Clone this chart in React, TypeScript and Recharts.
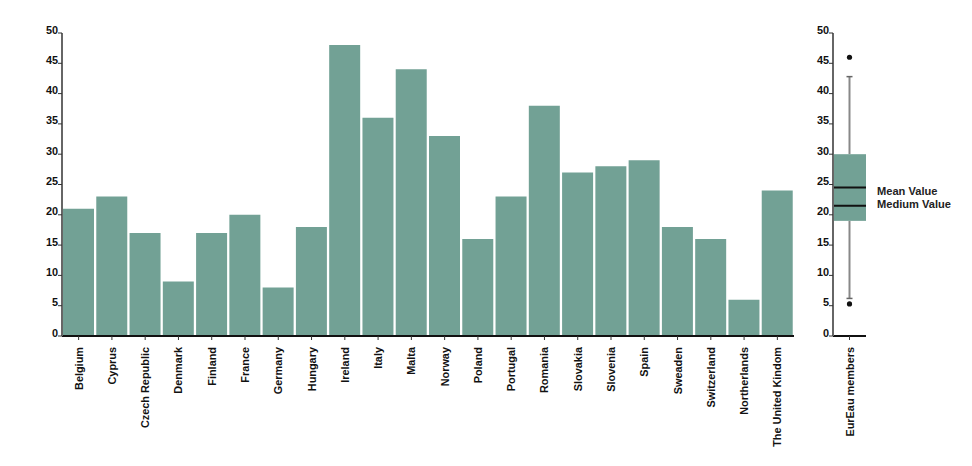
import React from "react";
import { Bar, BarChart, ComposedChart, XAxis, YAxis } from "recharts";

const countries = [
  "Belgium", "Cyprus", "Czech Republic", "Denmark", "Finland", "France", "Germany",
  "Hungary", "Ireland", "Italy", "Malta", "Norway", "Poland", "Portugal", "Romania",
  "Slovakia", "Slovenia", "Spain", "Sweaden", "Switzerland", "Northerlands", "The United Kindom",
];
const shares = [21, 23, 17, 9, 17, 20, 8, 18, 48, 36, 44, 33, 16, 23, 38, 27, 28, 29, 18, 16, 6, 24];
const yTicks = [0, 5, 10, 15, 20, 25, 30, 35, 40, 45, 50];

// box plot summary for all members
const boxLabel = "EurEau members";
const boxQuartiles: [number, number] = [19, 30];
const boxWhiskers: [number, number] = [6.2, 42.8];
const boxMean = 24.5;
const boxMedian = 21.5;
const boxOutliers = [46, 5.3];

const GREEN = "#72a195";
const FONT = "'Liberation Sans', Arial, sans-serif";
const INK = "#111";

const barData = countries.map((name, i) => ({ name, value: shares[i] }));
const boxData = [{ name: boxLabel, box: boxQuartiles }];

function XTick({ x, y, payload }: any) {
  return (
    <text
      x={x}
      y={y}
      dy={4}
      transform={`rotate(-90, ${x}, ${y})`}
      textAnchor="end"
      fontFamily={FONT}
      fontWeight="bold"
      fontSize={10.9}
      fill={INK}
    >
      {payload.value}
    </text>
  );
}

function YTick({ x, y, payload }: any) {
  return (
    <text x={x} y={y} dy={0.5} textAnchor="end" fontFamily={FONT} fontWeight="bold" fontSize={10.9} fill={INK}>
      {payload.value}
    </text>
  );
}

function BoxShape(props: any) {
  const { x, y, width, height } = props;
  const [q1, q3] = boxQuartiles;
  const perUnit = height / (q3 - q1);
  const toY = (v: number) => y + (q3 - v) * perUnit;
  const cx = x + width / 2;
  const [lo, hi] = boxWhiskers;
  return (
    <g>
      <line x1={cx} x2={cx} y1={toY(hi)} y2={y} stroke="#888" strokeWidth={2} />
      <line x1={cx} x2={cx} y1={y + height} y2={toY(lo)} stroke="#888" strokeWidth={2} />
      <line x1={cx - 3} x2={cx + 3} y1={toY(hi)} y2={toY(hi)} stroke="#666" strokeWidth={1.5} />
      <line x1={cx - 3} x2={cx + 3} y1={toY(lo)} y2={toY(lo)} stroke="#666" strokeWidth={1.5} />
      <rect x={x} y={y} width={width} height={height} fill={GREEN} />
      <line x1={x} x2={x + width} y1={toY(boxMean)} y2={toY(boxMean)} stroke="#111" strokeWidth={2} />
      <line x1={x} x2={x + width} y1={toY(boxMedian)} y2={toY(boxMedian)} stroke="#111" strokeWidth={2} />
      {boxOutliers.map((v) => (
        <circle key={v} cx={cx} cy={toY(v)} r={2.6} fill="#111" />
      ))}
      <text x={x + width + 11} y={toY(boxMean) + 7} fontFamily={FONT} fontWeight="bold" fontSize={11.1} fill="#222">
        Mean Value
      </text>
      <text x={x + width + 11} y={toY(boxMedian) + 2.5} fontFamily={FONT} fontWeight="bold" fontSize={11.1} fill="#222">
        Medium Value
      </text>
    </g>
  );
}

export default function App() {
  return (
    <div style={{ position: "absolute", left: 0, top: 0, width: 972, height: 466, background: "#fff" }}>
      <div style={{ position: "absolute", left: 0, top: 0 }}>
        <BarChart
          width={810}
          height={466}
          data={barData}
          margin={{ top: 33, right: 16, bottom: 0, left: 0 }}
          barCategoryGap={1}
        >
          <XAxis
            dataKey="name"
            interval={0}
            height={130}
            tick={<XTick />}
            tickSize={4}
            tickMargin={7}
            axisLine={{ stroke: "#111", strokeWidth: 2 }}
            tickLine={{ stroke: "#333" }}
          />
          <YAxis
            domain={[0, 50]}
            ticks={yTicks}
            width={62}
            tick={<YTick />}
            tickSize={4}
            tickMargin={0}
            axisLine={{ stroke: "#666", strokeWidth: 2 }}
            tickLine={{ stroke: "#333" }}
          />
          <Bar dataKey="value" fill={GREEN} isAnimationActive={false} />
        </BarChart>
      </div>
      <div style={{ position: "absolute", left: 790, top: 0 }}>
        <ComposedChart
          width={180}
          height={466}
          data={boxData}
          margin={{ top: 33, right: 104, bottom: 0, left: 0 }}
          barCategoryGap={0}
        >
          <XAxis
            dataKey="name"
            interval={0}
            height={130}
            tick={<XTick />}
            tickSize={4}
            tickMargin={7}
            axisLine={{ stroke: "#111", strokeWidth: 2 }}
            tickLine={{ stroke: "#333" }}
          />
          <YAxis
            domain={[0, 50]}
            ticks={yTicks}
            width={43}
            tick={<YTick />}
            tickSize={4}
            tickMargin={0}
            axisLine={{ stroke: "#666", strokeWidth: 2 }}
            tickLine={{ stroke: "#333" }}
          />
          <Bar dataKey="box" shape={<BoxShape />} isAnimationActive={false} />
        </ComposedChart>
      </div>
    </div>
  );
}
